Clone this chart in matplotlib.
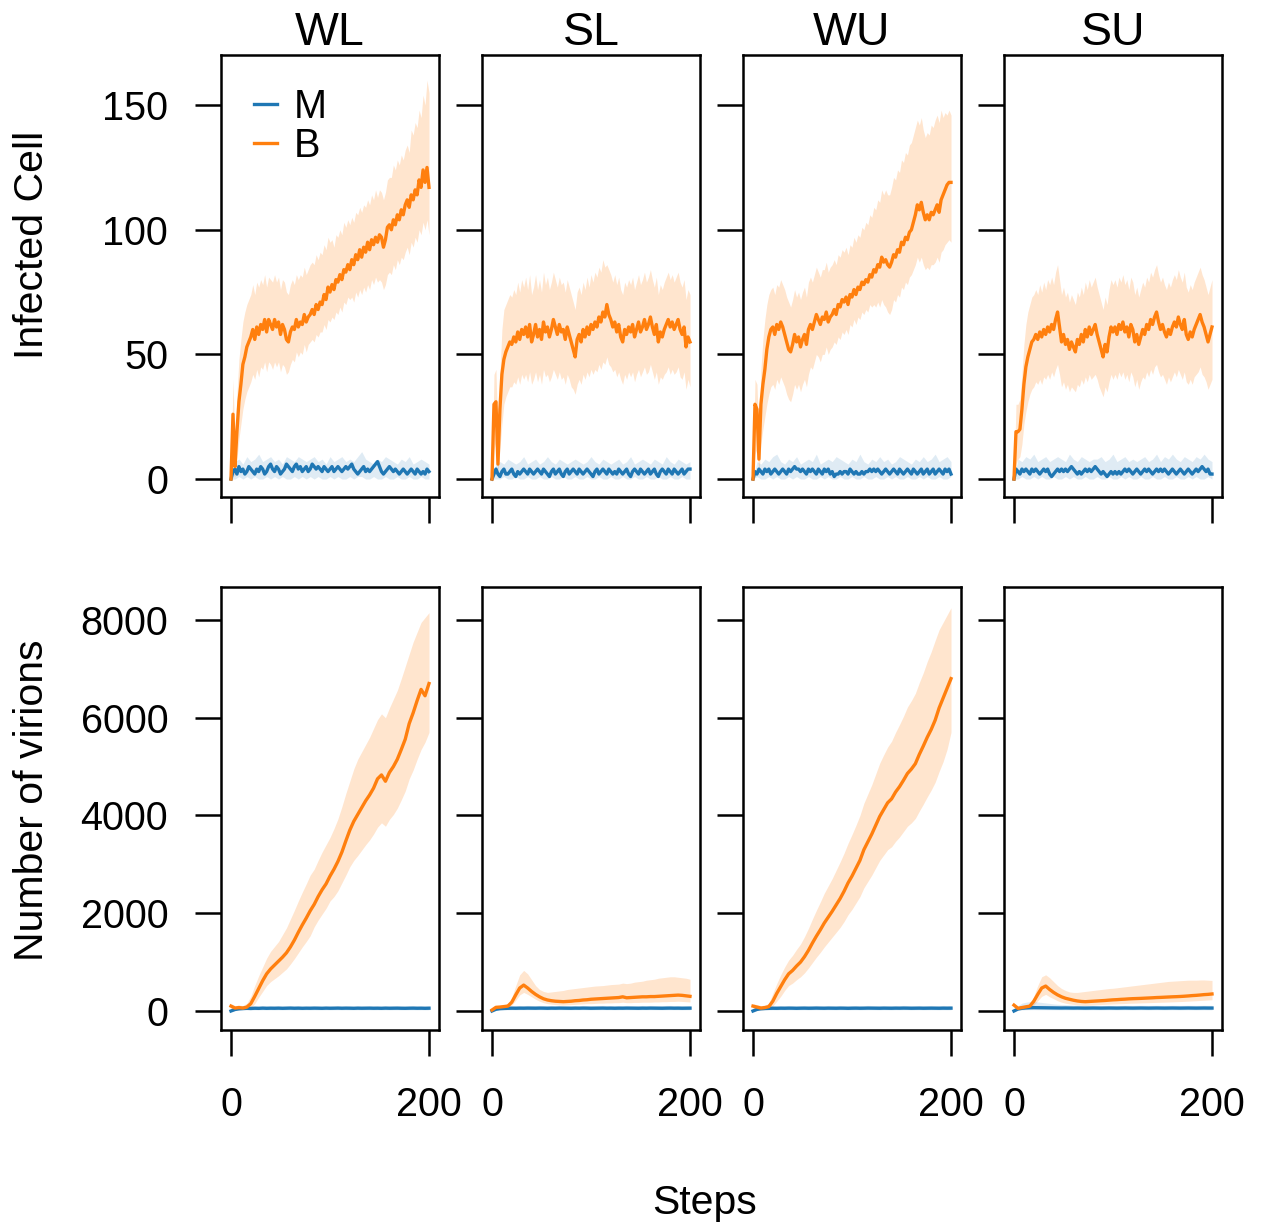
import numpy as np
import matplotlib
matplotlib.use("Agg")
import matplotlib.pyplot as plt

plt.rcParams['font.family'] = ['Liberation Sans', 'DejaVu Sans']

# ---------------------------------------------------------------- data
scenarios = ["WL", "SL", "WU", "SU"]
series_names = ["M", "B"]
steps_fine = np.arange(0, 201, 2)     # 101 samples
steps_coarse = np.arange(0, 201, 4)   # 51 samples
cell_ticks = [0, 50, 100, 150]
virion_ticks = [0, 2000, 4000, 6000, 8000]
step_ticks = [0, 200]

# Infected cells, strain B (mean, lower, upper), every 2 steps
WL_B = [0, 26, 5, 19, 31, 38, 46, 49, 53, 55, 57,
        60, 56, 61, 58, 62, 60, 64, 59, 64, 62,
        60, 64, 61, 63, 58, 62, 60, 56, 55, 59,
        61, 60, 64, 61, 63, 62, 66, 63, 65, 66,
        68, 66, 70, 68, 71, 70, 74, 72, 77, 75,
        78, 76, 80, 79, 82, 80, 84, 83, 86, 84,
        88, 86, 90, 88, 92, 89, 93, 91, 95, 92,
        96, 94, 97, 95, 98, 97, 93, 96, 101, 102,
        100, 104, 102, 106, 104, 108, 106, 110, 112, 109,
        114, 112, 116, 114, 120, 117, 124, 119, 125, 117]
WL_B_lo = [0, 2, 1, 8, 16, 22, 28, 32, 35, 37, 39,
           42, 40, 44, 41, 45, 44, 47, 43, 47, 46,
           44, 47, 45, 47, 43, 46, 45, 42, 43, 46,
           48, 47, 51, 49, 51, 50, 54, 51, 54, 55,
           56, 55, 58, 57, 59, 59, 62, 60, 64, 63,
           65, 64, 67, 66, 69, 67, 71, 70, 73, 72,
           73, 71, 75, 73, 76, 74, 77, 75, 78, 76,
           80, 78, 81, 79, 80, 79, 76, 78, 82, 83,
           82, 86, 84, 88, 86, 89, 88, 91, 93, 90,
           95, 93, 97, 95, 100, 98, 103, 100, 104, 98]
WL_B_hi = [0, 40, 14, 34, 48, 56, 63, 67, 70, 72, 74,
           78, 74, 79, 77, 80, 78, 82, 77, 81, 80,
           79, 82, 79, 81, 76, 80, 79, 75, 74, 78,
           80, 78, 82, 80, 82, 81, 85, 82, 84, 86,
           87, 86, 90, 88, 91, 90, 94, 92, 97, 95,
           96, 93, 98, 97, 100, 98, 103, 101, 104, 102,
           105, 103, 107, 106, 109, 107, 110, 109, 112, 110,
           114, 112, 116, 113, 116, 115, 112, 115, 120, 121,
           121, 126, 124, 128, 126, 130, 128, 132, 134, 131,
           140, 138, 143, 141, 148, 145, 154, 150, 160, 155]

SL_B = [0, 30, 31, 6, 28, 42, 48, 51, 53, 55, 54,
        57, 55, 59, 56, 60, 58, 61, 57, 62, 55,
        58, 62, 57, 60, 56, 63, 59, 61, 57, 60,
        64, 61, 58, 62, 59, 60, 56, 61, 58, 55,
        52, 49, 56, 58, 55, 60, 57, 61, 58, 62,
        60, 63, 61, 65, 63, 67, 65, 70, 66, 64,
        61, 63, 59, 62, 57, 55, 60, 58, 61, 59,
        62, 57, 60, 63, 59, 61, 64, 60, 62, 65,
        61, 58, 62, 55, 59, 57, 60, 62, 64, 61,
        63, 60, 62, 64, 60, 58, 61, 53, 57, 55]
SL_B_lo = [0, 12, 15, 2, 12, 22, 30, 33, 35, 37, 37,
           39, 38, 41, 38, 42, 40, 42, 39, 43, 38,
           40, 43, 39, 42, 38, 44, 41, 42, 39, 41,
           44, 42, 40, 43, 40, 41, 38, 42, 40, 37,
           36, 34, 38, 40, 38, 42, 40, 43, 41, 44,
           42, 44, 43, 46, 44, 47, 46, 49, 46, 45,
           43, 44, 41, 43, 40, 38, 42, 40, 43, 41,
           43, 39, 42, 44, 41, 43, 45, 42, 43, 46,
           43, 40, 43, 38, 41, 40, 42, 43, 45, 42,
           44, 42, 43, 45, 41, 40, 43, 36, 40, 37]
SL_B_hi = [0, 42, 44, 14, 42, 60, 68, 70, 72, 74, 73,
           76, 74, 79, 75, 80, 77, 81, 76, 82, 74,
           77, 82, 76, 80, 75, 83, 78, 81, 76, 79,
           83, 80, 77, 81, 78, 79, 75, 80, 77, 74,
           71, 68, 75, 77, 74, 79, 76, 81, 77, 82,
           79, 83, 81, 85, 83, 88, 85, 86, 84, 82,
           79, 82, 78, 81, 76, 74, 79, 77, 80, 78,
           81, 76, 79, 82, 78, 80, 83, 79, 81, 84,
           80, 77, 81, 74, 78, 76, 79, 81, 83, 80,
           82, 79, 81, 83, 79, 77, 80, 72, 76, 74]

WU_B = [0, 30, 28, 8, 30, 38, 44, 52, 57, 60, 61,
        58, 62, 60, 63, 61, 58, 55, 52, 51, 54,
        58, 55, 57, 53, 56, 58, 54, 60, 62, 60,
        63, 66, 64, 62, 65, 64, 67, 63, 65, 66,
        68, 66, 70, 69, 72, 71, 73, 70, 74, 73,
        76, 74, 77, 76, 79, 78, 80, 79, 82, 81,
        84, 83, 86, 85, 89, 87, 88, 86, 85, 87,
        90, 89, 92, 91, 95, 94, 97, 96, 99, 100,
        103, 106, 110, 108, 111, 107, 104, 106, 104, 107,
        106, 108, 110, 107, 112, 114, 116, 118, 119, 119]
WU_B_lo = [0, 10, 12, 2, 14, 20, 25, 30, 34, 37, 38,
           36, 40, 38, 41, 39, 37, 34, 32, 31, 34,
           38, 36, 38, 35, 38, 40, 37, 42, 45, 44,
           47, 50, 49, 47, 50, 50, 53, 50, 52, 53,
           55, 54, 57, 56, 59, 58, 60, 58, 62, 61,
           64, 62, 65, 64, 67, 66, 68, 67, 70, 69,
           70, 69, 71, 69, 72, 70, 69, 67, 66, 68,
           72, 71, 74, 73, 77, 76, 79, 78, 81, 82,
           84, 86, 89, 87, 89, 86, 84, 85, 84, 86,
           86, 87, 89, 87, 91, 92, 94, 95, 96, 95]
WU_B_hi = [0, 40, 38, 16, 44, 56, 64, 70, 74, 76, 77,
           74, 78, 77, 80, 78, 76, 73, 71, 69, 72,
           76, 73, 75, 72, 75, 77, 73, 79, 81, 79,
           82, 85, 83, 81, 84, 84, 87, 83, 85, 86,
           88, 86, 90, 89, 92, 91, 93, 90, 94, 93,
           97, 95, 98, 97, 101, 100, 103, 102, 106, 105,
           109, 108, 112, 111, 116, 114, 116, 114, 114, 117,
           121, 120, 124, 123, 128, 127, 131, 130, 134, 135,
           138, 141, 144, 142, 145, 140, 137, 139, 138, 142,
           141, 144, 146, 143, 148, 145, 147, 146, 148, 146]

SU_B = [0, 19, 19, 20, 28, 38, 45, 49, 52, 55, 56,
        58, 56, 59, 57, 60, 58, 61, 59, 62, 60,
        64, 67, 61, 55, 58, 54, 56, 52, 55, 53,
        51, 56, 54, 58, 55, 60, 57, 61, 58, 60,
        62, 58, 55, 52, 49, 54, 51, 57, 61, 59,
        61, 58, 62, 60, 63, 59, 61, 57, 62, 60,
        55, 58, 54, 57, 60, 58, 62, 60, 64, 62,
        65, 67, 63, 60, 62, 59, 57, 60, 58, 61,
        63, 61, 65, 62, 60, 64, 58, 56, 59, 57,
        60, 62, 64, 66, 63, 61, 58, 55, 58, 61]
SU_B_lo = [0, 6, 8, 9, 14, 22, 27, 31, 34, 36, 37,
           39, 38, 40, 38, 41, 40, 42, 40, 43, 41,
           44, 46, 42, 37, 39, 36, 38, 35, 37, 36,
           35, 38, 37, 40, 38, 41, 39, 42, 40, 41,
           42, 40, 37, 35, 33, 37, 35, 39, 42, 40,
           42, 40, 43, 41, 43, 40, 42, 39, 43, 41,
           37, 40, 36, 39, 41, 40, 43, 41, 44, 42,
           45, 46, 43, 41, 42, 40, 38, 41, 39, 41,
           43, 41, 44, 42, 40, 43, 39, 38, 40, 38,
           41, 42, 43, 45, 42, 41, 39, 36, 38, 40]
SU_B_hi = [0, 30, 30, 32, 42, 54, 62, 67, 70, 73, 74,
           76, 74, 78, 75, 79, 76, 80, 78, 81, 78,
           83, 86, 80, 74, 77, 73, 75, 71, 74, 72,
           70, 75, 73, 77, 74, 79, 76, 80, 77, 79,
           81, 77, 74, 71, 68, 73, 70, 76, 80, 78,
           80, 77, 81, 79, 82, 78, 80, 76, 81, 79,
           74, 77, 73, 76, 79, 77, 81, 79, 83, 81,
           84, 86, 82, 79, 81, 78, 76, 79, 77, 80,
           82, 80, 84, 81, 79, 83, 77, 75, 78, 76,
           79, 81, 83, 85, 82, 80, 77, 74, 77, 80]

# Infected cells, strain M (mean every 2 steps, band every 4 steps)
WL_M = [0, 3, 4, 2, 5, 3, 4, 2, 3, 5, 4,
        3, 2, 4, 3, 5, 4, 2, 3, 5, 6,
        4, 3, 5, 4, 2, 3, 4, 6, 5, 4,
        3, 5, 6, 4, 5, 3, 4, 5, 3, 4,
        6, 5, 4, 5, 4, 3, 5, 4, 3, 4,
        5, 3, 4, 5, 4, 3, 4, 5, 4, 5,
        6, 4, 3, 2, 3, 4, 5, 3, 4, 3,
        4, 5, 6, 7, 5, 3, 2, 3, 4, 5,
        4, 3, 4, 3, 2, 3, 4, 3, 2, 3,
        4, 3, 2, 4, 3, 2, 3, 2, 4, 3]
SL_M = [0, 2, 4, 2, 1, 3, 4, 2, 2, 3, 4,
        2, 1, 3, 2, 3, 4, 3, 2, 4, 3,
        2, 3, 4, 3, 2, 4, 3, 2, 1, 3,
        4, 2, 3, 4, 2, 1, 3, 4, 2, 3,
        4, 3, 2, 4, 3, 2, 3, 4, 3, 2,
        1, 3, 4, 2, 3, 4, 3, 2, 4, 3,
        2, 3, 2, 4, 3, 2, 3, 4, 2, 1,
        3, 4, 3, 2, 4, 3, 2, 3, 4, 2,
        3, 4, 2, 1, 3, 4, 3, 2, 4, 3,
        2, 4, 3, 2, 3, 4, 2, 3, 4, 4]
WU_M = [0, 3, 2, 4, 3, 2, 4, 3, 4, 2, 3,
        4, 3, 2, 3, 4, 3, 2, 4, 3, 4,
        5, 4, 4, 3, 4, 3, 2, 4, 3, 4,
        3, 2, 4, 3, 2, 4, 3, 4, 2, 3,
        1, 2, 2, 3, 2, 3, 3, 2, 4, 3,
        2, 3, 2, 2, 3, 2, 3, 3, 4, 3,
        4, 3, 4, 3, 2, 3, 4, 3, 2, 3,
        4, 3, 2, 4, 3, 2, 3, 4, 3, 2,
        4, 3, 2, 3, 4, 2, 3, 4, 2, 3,
        4, 2, 3, 4, 3, 2, 4, 3, 4, 2]
SU_M = [0, 4, 3, 2, 4, 3, 4, 3, 2, 4, 3,
        4, 3, 2, 3, 4, 3, 4, 2, 1, 2,
        3, 4, 3, 4, 3, 4, 3, 4, 5, 4,
        3, 2, 3, 2, 3, 4, 3, 4, 3, 4,
        5, 4, 3, 2, 3, 2, 1, 2, 3, 2,
        3, 2, 3, 2, 3, 4, 3, 4, 3, 2,
        3, 4, 3, 2, 3, 4, 3, 4, 3, 2,
        3, 4, 3, 4, 3, 4, 3, 2, 3, 4,
        3, 2, 3, 4, 3, 2, 3, 4, 3, 2,
        3, 4, 3, 4, 5, 4, 3, 4, 2, 2]

WL_M_hi = [0, 7, 8, 6, 9, 7, 8, 10, 7, 8, 9,
           7, 8, 6, 9, 8, 7, 9, 8, 7, 8,
           9, 7, 8, 6, 9, 7, 8, 9, 7, 8,
           7, 9, 11, 8, 7, 6, 8, 7, 9, 8,
           7, 6, 8, 7, 9, 6, 7, 8, 7, 6]
WL_M_lo = [0, 0, 1, 0, 1, 0, 1, 0, 0, 1, 0,
           1, 0, 1, 0, 0, 1, 0, 1, 0, 1,
           0, 1, 0, 0, 1, 0, 1, 0, 0, 1,
           0, 1, 1, 0, 0, 1, 0, 0, 1, 0,
           0, 1, 0, 0, 1, 0, 0, 1, 0, 0]
SL_M_hi = [0, 6, 7, 6, 8, 7, 6, 7, 9, 6, 7,
           8, 6, 7, 9, 7, 6, 8, 7, 6, 7,
           8, 7, 6, 7, 9, 7, 6, 8, 7, 6,
           7, 8, 6, 7, 9, 6, 7, 8, 7, 6,
           8, 7, 6, 9, 7, 6, 8, 7, 6, 7]
SL_M_lo = [0, 0, 0, 1, 0, 0, 1, 0, 0, 1, 0,
           0, 1, 0, 0, 1, 0, 0, 1, 0, 0,
           1, 0, 0, 1, 0, 0, 1, 0, 0, 1,
           0, 0, 1, 0, 0, 1, 0, 0, 1, 0,
           0, 1, 0, 0, 1, 0, 0, 1, 0, 0]
WU_M_hi = [0, 7, 6, 8, 7, 9, 10, 7, 6, 8, 7,
           9, 6, 7, 8, 7, 10, 6, 7, 8, 7,
           9, 8, 7, 6, 8, 7, 10, 7, 6, 8,
           7, 9, 7, 8, 6, 7, 9, 8, 7, 6,
           8, 7, 9, 7, 8, 10, 7, 8, 9, 7]
WU_M_lo = [0, 1, 0, 0, 1, 0, 1, 0, 0, 1, 0,
           1, 0, 0, 1, 0, 0, 1, 0, 1, 0,
           0, 1, 0, 0, 1, 0, 0, 1, 0, 0,
           1, 0, 0, 1, 0, 1, 0, 0, 1, 0,
           0, 1, 0, 1, 0, 0, 1, 0, 0, 1]
SU_M_hi = [0, 8, 7, 9, 8, 10, 7, 8, 9, 7, 8,
           9, 8, 7, 10, 8, 7, 9, 8, 7, 8,
           8, 9, 7, 8, 10, 7, 8, 9, 7, 8,
           7, 8, 9, 7, 8, 10, 7, 9, 8, 10,
           8, 7, 9, 8, 7, 9, 8, 10, 8, 7]
SU_M_lo = [0, 0, 1, 0, 0, 1, 0, 1, 0, 0, 1,
           0, 0, 1, 0, 1, 0, 0, 1, 0, 0,
           1, 0, 0, 1, 0, 0, 1, 0, 1, 0,
           0, 1, 0, 0, 1, 0, 0, 1, 0, 0,
           1, 0, 0, 1, 0, 1, 0, 0, 1, 0]

# Number of virions (every 4 steps)
WL_VB = [100,
         60, 70, 60, 80, 150, 300, 460, 620, 760, 860,
         940, 1020, 1100, 1190, 1310, 1450, 1610, 1760, 1900, 2050,
         2180, 2340, 2480, 2600, 2760, 2900, 3060, 3250, 3480, 3700,
         3880, 4020, 4160, 4300, 4420, 4560, 4750, 4830, 4700, 4880,
         5000, 5150, 5350, 5560, 5880, 6100, 6350, 6580, 6450, 6700]
WL_VB_lo = [50,
            20, 30, 30, 40, 60, 150, 280, 400, 520, 600,
            660, 720, 790, 860, 960, 1070, 1190, 1310, 1420, 1540,
            1720, 1860, 1980, 2100, 2250, 2340, 2460, 2620, 2780, 2950,
            3080, 3180, 3290, 3400, 3500, 3620, 3760, 3850, 3780, 3920,
            4020, 4150, 4320, 4500, 4750, 4930, 5150, 5350, 5500, 5700]
WL_VB_hi = [150,
            110, 120, 110, 160, 300, 520, 720, 900, 1080, 1220,
            1320, 1420, 1560, 1700, 1880, 2060, 2250, 2430, 2600, 2780,
            2900, 3080, 3250, 3400, 3550, 3730, 3930, 4180, 4450, 4700,
            4950, 5150, 5300, 5450, 5600, 5780, 5960, 6080, 6000, 6200,
            6380, 6560, 6800, 7050, 7300, 7550, 7750, 7950, 8050, 8150]

SL_VB = [20,
         75, 80, 90, 100, 180, 330, 470, 530, 470, 400,
         340, 290, 250, 225, 210, 200, 195, 190, 195, 200,
         210, 215, 225, 230, 240, 245, 250, 255, 260, 265,
         270, 275, 290, 270, 275, 280, 285, 290, 290, 295,
         295, 300, 305, 310, 315, 320, 325, 320, 310, 300]
SL_VB_lo = [10,
            50, 55, 60, 70, 120, 220, 330, 380, 340, 290,
            240, 200, 170, 150, 140, 130, 125, 120, 125, 130,
            135, 140, 145, 150, 150, 155, 160, 160, 165, 165,
            170, 170, 180, 170, 170, 175, 175, 180, 180, 180,
            185, 185, 190, 190, 195, 195, 200, 195, 190, 185]
SL_VB_hi = [40,
            110, 120, 130, 150, 280, 520, 740, 830, 760, 640,
            520, 440, 400, 380, 390, 400, 410, 420, 440, 450,
            460, 470, 480, 490, 500, 510, 515, 520, 530, 540,
            545, 550, 570, 560, 570, 590, 600, 610, 630, 640,
            650, 670, 680, 690, 700, 700, 690, 680, 670, 650]

WU_VB = [100,
         80, 60, 70, 90, 200, 360, 500, 640, 760, 830,
         920, 1000, 1110, 1240, 1390, 1530, 1660, 1800, 1920, 2040,
         2170, 2300, 2450, 2620, 2760, 2920, 3080, 3300, 3460, 3620,
         3800, 3980, 4120, 4260, 4340, 4480, 4590, 4720, 4860, 4950,
         5060, 5250, 5420, 5600, 5760, 5950, 6200, 6400, 6600, 6800]
WU_VB_lo = [50,
            40, 20, 30, 50, 100, 200, 300, 420, 520, 570,
            640, 700, 780, 880, 990, 1100, 1200, 1310, 1410, 1510,
            1610, 1710, 1830, 1970, 2080, 2210, 2340, 2520, 2650, 2780,
            2930, 3080, 3190, 3300, 3360, 3470, 3560, 3670, 3780, 3850,
            3940, 4090, 4230, 4380, 4520, 4680, 4900, 5100, 5350, 5700]
WU_VB_hi = [150,
            130, 110, 120, 160, 360, 560, 740, 900, 1040, 1140,
            1260, 1370, 1520, 1690, 1880, 2060, 2230, 2410, 2560, 2710,
            2880, 3050, 3230, 3430, 3610, 3800, 4000, 4250, 4440, 4630,
            4850, 5070, 5240, 5400, 5520, 5700, 5860, 6030, 6220, 6350,
            6500, 6720, 6920, 7150, 7350, 7580, 7800, 7950, 8100, 8250]

SU_VB = [120,
         55, 70, 85, 100, 200, 340, 470, 510, 440, 380,
         330, 290, 260, 240, 220, 205, 195, 190, 195, 200,
         205, 210, 215, 222, 228, 232, 238, 242, 248, 252,
         255, 258, 262, 266, 270, 275, 278, 282, 286, 290,
         293, 297, 302, 308, 315, 320, 327, 335, 340, 348]
SU_VB_lo = [80,
            30, 40, 50, 65, 120, 210, 300, 340, 290, 250,
            210, 180, 160, 145, 135, 125, 120, 115, 120, 125,
            128, 132, 135, 140, 143, 146, 150, 153, 157, 160,
            162, 165, 168, 170, 173, 176, 178, 181, 184, 187,
            190, 193, 197, 201, 206, 210, 215, 220, 225, 230]
SU_VB_hi = [160,
            90, 110, 120, 140, 300, 520, 700, 740, 680, 600,
            520, 460, 420, 390, 380, 380, 390, 400, 410, 420,
            430, 440, 450, 460, 465, 475, 485, 495, 505, 515,
            525, 535, 545, 555, 565, 575, 585, 595, 605, 610,
            615, 620, 625, 630, 630, 630, 635, 635, 630, 625]

WL_VM = [0,
         30, 45, 50, 55, 52, 56, 54, 58, 55, 57,
         56, 58, 55, 57, 59, 56, 58, 55, 57, 56,
         58, 57, 55, 58, 56, 57, 59, 56, 58, 57,
         55, 58, 56, 57, 58, 56, 57, 55, 58, 56,
         57, 58, 56, 55, 57, 58, 56, 57, 55, 57]
SL_VM = [0,
         35, 48, 52, 55, 57, 56, 58, 57, 59, 58,
         57, 59, 58, 56, 58, 57, 59, 58, 57, 56,
         58, 57, 59, 58, 56, 57, 58, 59, 57, 58,
         56, 58, 57, 59, 58, 57, 56, 58, 57, 59,
         58, 57, 56, 58, 59, 57, 58, 56, 57, 58]
WU_VM = [0,
         32, 46, 51, 54, 56, 55, 57, 56, 58, 57,
         55, 57, 58, 56, 57, 59, 57, 56, 58, 57,
         56, 58, 57, 55, 57, 58, 56, 57, 59, 58,
         57, 56, 58, 57, 56, 58, 57, 59, 58, 56,
         57, 58, 56, 57, 58, 57, 56, 58, 57, 58]
SU_VM = [0,
         40, 55, 62, 66, 68, 67, 66, 65, 64, 63,
         62, 61, 62, 61, 60, 61, 60, 59, 60, 61,
         60, 59, 60, 61, 60, 59, 60, 61, 60, 59,
         60, 61, 60, 59, 60, 61, 60, 59, 60, 61,
         60, 59, 60, 61, 60, 59, 60, 61, 60, 60]
WL_VM_lo = [0,
            10, 15, 20, 22, 20, 22, 21, 23, 22, 23,
            22, 23, 22, 23, 24, 22, 23, 22, 23, 22,
            23, 22, 22, 23, 22, 23, 24, 22, 23, 22,
            22, 23, 22, 23, 23, 22, 23, 22, 23, 22,
            23, 23, 22, 22, 23, 23, 22, 23, 22, 23]
WL_VM_hi = [0,
            60, 90, 100, 105, 100, 104, 100, 106, 102, 104,
            102, 105, 100, 103, 106, 101, 104, 100, 103, 102,
            105, 103, 100, 104, 101, 103, 106, 101, 104, 103,
            100, 104, 101, 103, 105, 101, 103, 100, 104, 101,
            103, 105, 101, 100, 103, 105, 101, 103, 100, 103]
SL_VM_lo = [0,
            12, 18, 22, 23, 24, 23, 24, 24, 25, 24,
            24, 25, 24, 23, 24, 24, 25, 24, 24, 23,
            24, 24, 25, 24, 23, 24, 24, 25, 24, 24,
            23, 24, 24, 25, 24, 24, 23, 24, 24, 25,
            24, 24, 23, 24, 25, 24, 24, 23, 24, 24]
SL_VM_hi = [0,
            70, 95, 105, 110, 112, 110, 113, 111, 114, 112,
            111, 114, 112, 110, 113, 111, 114, 112, 111, 110,
            113, 111, 114, 112, 110, 111, 113, 114, 111, 112,
            110, 113, 111, 114, 112, 111, 110, 113, 111, 114,
            112, 111, 110, 113, 114, 111, 112, 110, 111, 112]
WU_VM_lo = [0,
            11, 16, 21, 22, 23, 22, 24, 23, 24, 23,
            22, 23, 24, 22, 23, 24, 23, 22, 24, 23,
            22, 24, 23, 22, 23, 24, 22, 23, 24, 24,
            23, 22, 24, 23, 22, 24, 23, 24, 24, 22,
            23, 24, 22, 23, 24, 23, 22, 24, 23, 24]
WU_VM_hi = [0,
            65, 92, 102, 108, 110, 109, 112, 110, 113, 111,
            109, 111, 113, 110, 111, 114, 111, 110, 113, 111,
            110, 113, 111, 109, 111, 113, 110, 111, 114, 112,
            111, 110, 113, 111, 110, 113, 111, 114, 112, 110,
            111, 113, 110, 111, 113, 111, 110, 113, 111, 112]
SU_VM_lo = [0,
            14, 20, 24, 26, 27, 26, 26, 25, 25, 24,
            24, 23, 24, 23, 23, 24, 23, 22, 23, 24,
            23, 22, 23, 24, 23, 22, 23, 24, 23, 22,
            23, 24, 23, 22, 23, 24, 23, 22, 23, 24,
            23, 22, 23, 24, 23, 22, 23, 24, 23, 23]
SU_VM_hi = [0,
            110, 160, 180, 190, 190, 185, 175, 165, 155, 145,
            138, 132, 130, 126, 122, 120, 118, 116, 117, 118,
            116, 115, 116, 117, 116, 115, 116, 117, 116, 115,
            116, 117, 116, 115, 116, 117, 116, 115, 116, 117,
            116, 115, 116, 117, 116, 115, 116, 117, 116, 116]

cells = {
    "WL": (WL_M, WL_M_lo, WL_M_hi, WL_B, WL_B_lo, WL_B_hi),
    "SL": (SL_M, SL_M_lo, SL_M_hi, SL_B, SL_B_lo, SL_B_hi),
    "WU": (WU_M, WU_M_lo, WU_M_hi, WU_B, WU_B_lo, WU_B_hi),
    "SU": (SU_M, SU_M_lo, SU_M_hi, SU_B, SU_B_lo, SU_B_hi),
}
virions = {
    "WL": (WL_VM, WL_VM_lo, WL_VM_hi, WL_VB, WL_VB_lo, WL_VB_hi),
    "SL": (SL_VM, SL_VM_lo, SL_VM_hi, SL_VB, SL_VB_lo, SL_VB_hi),
    "WU": (WU_VM, WU_VM_lo, WU_VM_hi, WU_VB, WU_VB_lo, WU_VB_hi),
    "SU": (SU_VM, SU_VM_lo, SU_VM_hi, SU_VB, SU_VB_lo, SU_VB_hi),
}

# ---------------------------------------------------------------- style
BLUE = "#1f77b4"
ORANGE = "#ff7f0e"
W, H = 1261, 1229
FS_TICK = 28.5
FS_LABEL = 29.5
FS_TITLE = 33.5

fig = plt.figure(figsize=(W / 100, H / 100), dpi=100)

col_left_px = [221, 482, 743, 1004]
panel_w_px = 218
rows = [  # (top px, bottom px)
    (55, 497),
    (587, 1030),
]


def px_axes(left, top, bottom):
    return fig.add_axes([left / W, 1 - bottom / H, panel_w_px / W, (bottom - top) / H])


def style(ax, yticks, ylim, show_y, show_x):
    ax.set_xlim(-10.1, 210.1)
    ax.set_ylim(*ylim)
    ax.set_xticks(step_ticks)
    ax.set_yticks(yticks)
    for s in ax.spines.values():
        s.set_linewidth(1.8)
    ax.tick_params(direction="out", length=19, width=1.8, labelsize=FS_TICK)
    ax.tick_params(axis="y", pad=19, labelleft=show_y)
    ax.tick_params(axis="x", pad=21, labelbottom=show_x)


def draw(ax, steps_m, steps_mb, steps_b, data):
    m, m_lo, m_hi, b, b_lo, b_hi = data
    ax.fill_between(steps_b, b_lo, b_hi, color=ORANGE, alpha=0.2, lw=0)
    ax.fill_between(steps_mb, m_lo, m_hi, color=BLUE, alpha=0.14, lw=0)
    lm, = ax.plot(steps_m, m, color=BLUE, lw=2.4)
    lb, = ax.plot(steps_b, b, color=ORANGE, lw=2.4)
    return lm, lb


for c, name in enumerate(scenarios):
    ax = px_axes(col_left_px[c], *rows[0])
    lm, lb = draw(ax, steps_fine, steps_coarse, steps_fine, cells[name])
    style(ax, cell_ticks, (-7.2, 170.1), c == 0, False)
    ax.set_title(name, fontsize=FS_TITLE, pad=4)
    if c == 0:
        ax.legend([lm, lb], series_names, loc="upper left",
                  bbox_to_anchor=(0.15, 0.925), frameon=False, fontsize=FS_TICK,
                  handlelength=0.6, handletextpad=0.4, labelspacing=0.02,
                  borderpad=0, borderaxespad=0)

    ax = px_axes(col_left_px[c], *rows[1])
    draw(ax, steps_coarse, steps_coarse, steps_coarse, virions[name])
    style(ax, virion_ticks, (-389, 8675), c == 0, True)

fig.text(32 / W, 1 - 245 / H, "Infected Cell", rotation=90,
         ha="center", va="center", fontsize=FS_LABEL)
fig.text(32 / W, 1 - 800 / H, "Number of virions", rotation=90,
         ha="center", va="center", fontsize=FS_LABEL)
fig.text(705 / W, 1 - 1203 / H, "Steps", ha="center", va="center", fontsize=FS_LABEL)

fig.savefig("out.png", dpi=100)
